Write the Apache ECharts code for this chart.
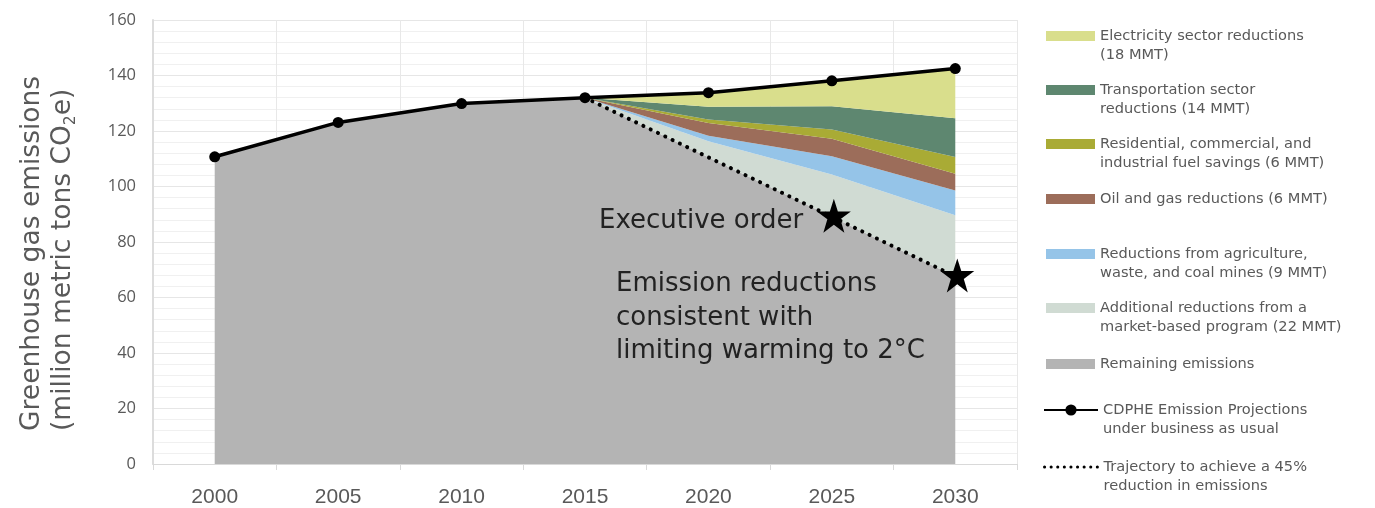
<!DOCTYPE html>
<html>
<head>
<meta charset="utf-8">
<style>
  html, body { margin: 0; padding: 0; background: #ffffff; }
  #chart { width: 1375px; height: 508px; }
</style>
<script src="https://cdn.jsdelivr.net/npm/echarts@6/dist/echarts.min.js"></script>
</head>
<body>
<div id="chart"></div>
<script>
// Colorado greenhouse gas emissions, business as usual vs. reduction pathway (MMT CO2e)
const years = ['2000', '2005', '2010', '2015', '2020', '2025', '2030'];

// CDPHE business-as-usual projection
const businessAsUsual = [110.7, 123.1, 129.9, 132.0, 133.8, 138.1, 142.5];
// 45% reduction trajectory (starts in 2015)
const trajectory = [null, null, null, 132.0, 110.5, 89.1, 67.6];

// Stacked wedges, bottom to top
const remaining = [110.7, 123.1, 129.9, 132.0, 110.5, 89.1, 67.6];
const marketBased = [0, 0, 0, 0, 5.8, 15.2, 22.0];
const agriculture = [0, 0, 0, 0, 2.0, 6.6, 9.0];
const oilGas = [0, 0, 0, 0, 4.6, 6.3, 6.0];
const fuelSavings = [0, 0, 0, 0, 1.2, 3.3, 6.0];
const transportation = [0, 0, 0, 0, 4.6, 8.4, 14.0];
const electricity = [0, 0, 0, 0, 5.1, 9.2, 17.9];

// Milestones marked with stars
const milestoneYears = ['2025', '2030'];

const yTicks = { min: 0, max: 160, interval: 20 };

const names = {
  elec: 'Electricity sector reductions\n(18 MMT)',
  trans: 'Transportation sector\nreductions (14 MMT)',
  res: 'Residential, commercial, and\nindustrial fuel savings (6 MMT)',
  oil: 'Oil and gas reductions (6 MMT)',
  agri: 'Reductions from agriculture,\nwaste, and coal mines (9 MMT)',
  market: 'Additional reductions from a\nmarket-based program (22 MMT)',
  remain: 'Remaining emissions',
  bau: 'CDPHE Emission Projections\nunder business as usual',
  traj: 'Trajectory to achieve a 45%\nreduction in emissions'
};

const colors = {
  elec: '#d9de8c',
  trans: '#5e8770',
  res: '#a9ab35',
  oil: '#9c6d5a',
  agri: '#95c4e8',
  market: '#d0dbd3',
  remain: '#b4b4b4'
};

const FONT = 'DejaVu Sans';
const GREY_TEXT = '#595959';

function areaSeries(key, data) {
  return {
    name: names[key],
    type: 'line',
    stack: 'total',
    data: data,
    symbol: 'none',
    lineStyle: { width: 0 },
    color: colors[key],
    itemStyle: { color: colors[key] },
    areaStyle: { color: colors[key], opacity: 1 },
    emphasis: { disabled: true },
    z: 1
  };
}

// One legend per entry so each sits at its own row; two-line entries get an
// empty lead line so the swatch lines up with the first line of text.
const LINE_H = 19.5;
function legendAt(key, firstLineY, twoLines, extra) {
  const base = {
    data: [names[key]],
    left: 1046,
    top: twoLines ? firstLineY - 1.5 * LINE_H : firstLineY - 0.5 * LINE_H,
    padding: 0,
    itemGap: 0,
    itemWidth: 49,
    itemHeight: 10,
    icon: 'rect',
    selectedMode: false,
    formatter: twoLines ? (n => '\u00a0\n' + n) : (n => n),
    textStyle: {
      fontFamily: FONT,
      fontSize: 14.6,
      color: GREY_TEXT,
      lineHeight: LINE_H
    }
  };
  return Object.assign(base, extra || {});
}

const chart = echarts.init(document.getElementById('chart'), null, { renderer: 'canvas' });

const starPath = 'path://M50,0 L61.8,35.5 L100,35.5 L69.1,57.5 L80.9,95 L50,72.5 L19.1,95 L30.9,57.5 L0,35.5 L38.2,35.5 Z';

const option = {
  animation: false,
  backgroundColor: '#ffffff',
  grid: { left: 153, right: 358, top: 20, bottom: 43, containLabel: false },
  xAxis: {
    type: 'category',
    data: years,
    boundaryGap: true,
    axisLine: { show: true, lineStyle: { color: '#d9d9d9', width: 1 } },
    axisTick: { show: true, length: 6, lineStyle: { color: '#d9d9d9' } },
    axisLabel: { color: GREY_TEXT, fontFamily: 'Liberation Sans', fontSize: 21, margin: 23 },
    splitLine: { show: true, lineStyle: { color: '#e8e8e8', width: 1 } }
  },
  yAxis: {
    type: 'value',
    min: yTicks.min,
    max: yTicks.max,
    interval: yTicks.interval,
    axisLine: { show: true, lineStyle: { color: '#dcdcdc', width: 2 } },
    axisTick: { show: false },
    axisLabel: { color: GREY_TEXT, fontFamily: 'Open Sans', fontSize: 16.5, margin: 17 },
    splitLine: { show: true, lineStyle: { color: '#e6e6e6', width: 1 } },
    minorTick: { show: false, splitNumber: 5 },
    minorSplitLine: { show: true, lineStyle: { color: '#f0f0f0', width: 1 } }
  },
  legend: [
    legendAt('elec', 36, true),
    legendAt('trans', 90, true),
    legendAt('res', 144, true),
    legendAt('oil', 199, false),
    legendAt('agri', 254, true),
    legendAt('market', 308, true),
    legendAt('remain', 364, false),
    legendAt('bau', 410, true, { icon: null, itemWidth: 54, itemHeight: 14, left: 1043 }),
    legendAt('traj', 467, true, {
      icon: null, itemWidth: 54, itemHeight: 14, left: 1043,
      itemStyle: { opacity: 0 },
      lineStyle: { width: 3, type: [0.1, 6.5], cap: 'round' }
    })
  ],
  series: [
    areaSeries('remain', remaining),
    areaSeries('market', marketBased),
    areaSeries('agri', agriculture),
    areaSeries('oil', oilGas),
    areaSeries('res', fuelSavings),
    areaSeries('trans', transportation),
    areaSeries('elec', electricity),
    {
      name: names.traj,
      type: 'line',
      data: trajectory,
      symbol: 'none',
      color: '#000000',
      lineStyle: { color: '#000000', width: 4, type: [0.1, 8], cap: 'round' },
      emphasis: { disabled: true },
      z: 3
    },
    {
      name: names.bau,
      type: 'line',
      data: businessAsUsual,
      symbol: 'circle',
      symbolSize: 11,
      color: '#000000',
      itemStyle: { color: '#000000' },
      lineStyle: { color: '#000000', width: 3.5 },
      emphasis: { disabled: true },
      z: 4
    },
    {
      name: 'milestones',
      type: 'scatter',
      data: milestoneYears.map(y => [y, trajectory[years.indexOf(y)]]),
      symbol: starPath,
      symbolSize: 34,
      symbolOffset: [2, -1],
      itemStyle: { color: '#000000', opacity: 1 },
      emphasis: { disabled: true },
      z: 5
    }
  ],
  graphic: [
    {
      type: 'text',
      x: 48,
      y: 431,
      rotation: Math.PI / 2,
      style: {
        text: 'Greenhouse gas emissions\n{t|(million metric tons CO}{s|2}{t|e)}',
        align: 'left',
        verticalAlign: 'middle',
        fontFamily: 'DejaVu Sans',
        fontSize: 26.5,
        lineHeight: 31,
        fill: GREY_TEXT,
        rich: {
          t: { fontFamily: 'DejaVu Sans', fontSize: 26.5, lineHeight: 31, fill: GREY_TEXT },
          s: { fontFamily: 'DejaVu Sans', fontSize: 15.5, lineHeight: 31, fill: GREY_TEXT, padding: [14, 0, 0, 0] }
        }
      }
    },
    {
      type: 'text',
      x: 599,
      y: 221,
      style: {
        text: 'Executive order',
        align: 'left',
        verticalAlign: 'middle',
        fontFamily: FONT,
        fontSize: 26,
        fill: '#222222'
      },
      z: 10
    },
    {
      type: 'text',
      x: 616,
      y: 318,
      style: {
        text: 'Emission reductions\nconsistent with\nlimiting warming to 2°C',
        align: 'left',
        verticalAlign: 'middle',
        fontFamily: FONT,
        fontSize: 26,
        lineHeight: 33.5,
        fill: '#222222'
      },
      z: 10
    }
  ]
};

chart.setOption(option);
</script>
</body>
</html>
